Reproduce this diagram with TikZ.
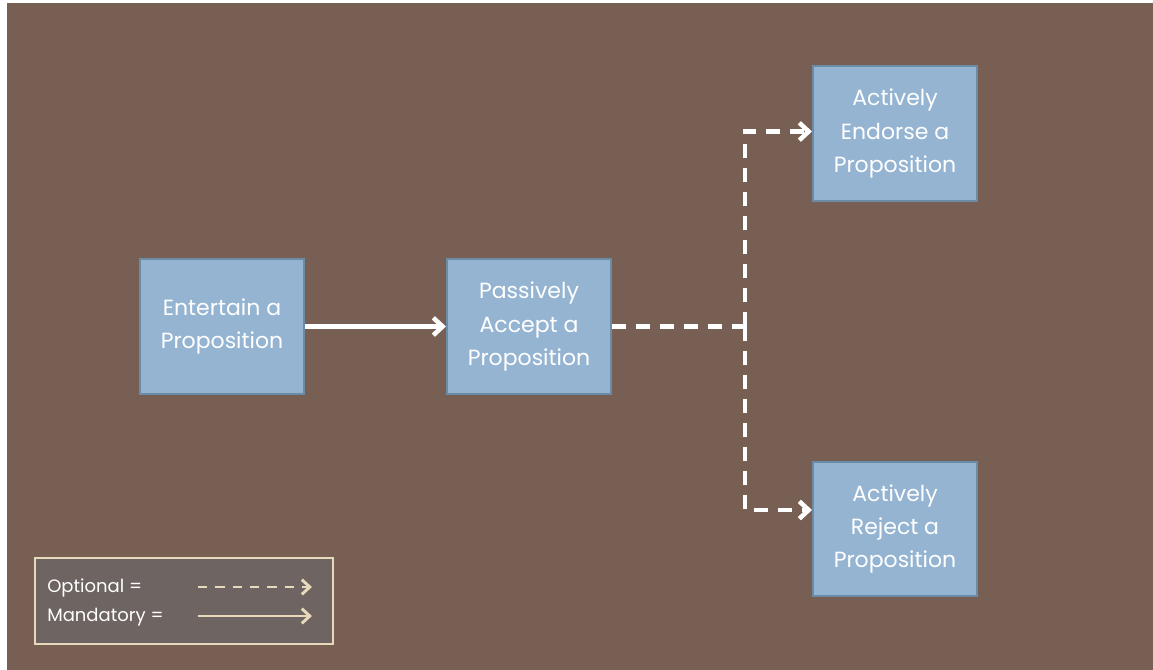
\documentclass[tikz,border=0pt]{standalone}
\usepackage{fontspec}
\setmainfont{Poppins}
\usepackage{tikz}
\usetikzlibrary{arrows.meta,positioning,calc}

\definecolor{slidebrown}{HTML}{775F54}
\definecolor{boxblue}{HTML}{94B4D2}
\definecolor{boxedge}{HTML}{6B8BA7}
\definecolor{legendfill}{HTML}{6E6462}
\definecolor{cream}{HTML}{E8D9BC}

\begin{document}
\begin{tikzpicture}[x=0.75pt, y=-0.75pt]
  \tikzset{align=center, font=\fontsize{16.5}{25}\selectfont}
  \tikzset{stage/.style = {shape=rectangle, draw=boxedge, line width=1.5pt, fill=boxblue,
      text=white, minimum width=123pt, minimum height=101pt, inner sep=2pt}}
  \tikzset{must/.style = {draw=white, line width=3.4pt, -{Straight Barb[length=7pt,width=13pt]}}}
  \tikzset{maybe/.style = {must, dash pattern=on 10.5pt off 7.5pt}}
  \tikzset{key/.style = {font=\fontsize{13.5}{16}\selectfont, text=white, anchor=west, inner sep=0pt}}
  \tikzset{keyline/.style = {draw=cream, line width=2.2pt, -{Straight Barb[length=6pt,width=11pt]}}}

  % background
  \useasboundingbox (0,0) rectangle (1153,670);
  \fill[white] (0,0) rectangle (1153,670);
  \fill[slidebrown] (7,3) rectangle (1153,670);

  \node[stage] (entertain) at (222,326.5) {Entertain a\\Proposition};
  \node[stage] (passive) at (529,326.5) {Passively\\Accept a\\Proposition};
  \node[stage] (endorse) at (895,133.5) {Actively\\Endorse a\\Proposition};
  \node[stage] (reject) at (895,529) {Actively\\Reject a\\Proposition};
  \coordinate (fork) at (745,326.5);

  \draw[must] (entertain) -- (passive);
  \draw[maybe, -] (passive) -- (fork);
  \draw[maybe] (fork) |- ($(endorse.west)+(0,-2)$);
  \draw[maybe] (fork) |- (reject.west |- 0,510);

  % legend
  \node[draw=cream, line width=1.5pt, fill=legendfill, minimum width=223pt, minimum height=65pt,
    inner sep=0pt] (legend) at (184,601) {};
  \node[key] (optional) at (47,588) {Optional =};
  \node[key] (mandatory) at (47,617) {Mandatory =};
  \coordinate (optA) at (198,587);
  \coordinate (optB) at (312,587);
  \coordinate (manA) at (198,616);
  \coordinate (manB) at (312,616);
  \draw[keyline, dash pattern=on 7pt off 6pt] (optA) -- (optB);
  \draw[keyline] (manA) -- (manB);
\end{tikzpicture}
\end{document}
